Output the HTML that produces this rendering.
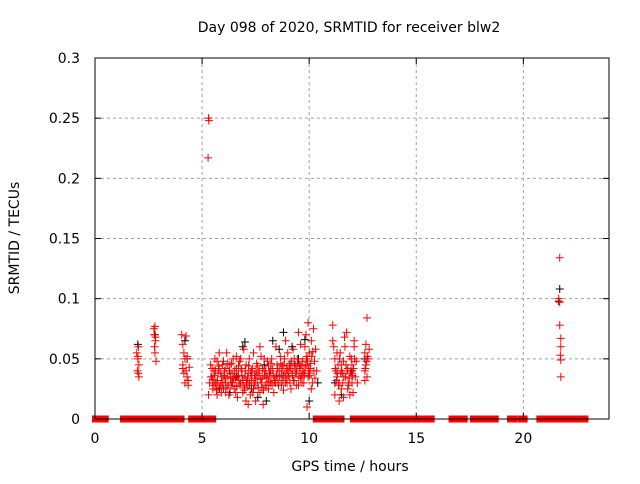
<!DOCTYPE html>
<html><head><meta charset="utf-8"><style>
body{margin:0;background:#fff;width:640px;height:480px;overflow:hidden;font-family:"DejaVu Sans",sans-serif}
svg text{font-family:"DejaVu Sans","Liberation Sans",sans-serif;font-size:14px;fill:#000}
</style></head><body>
<svg id="chart" width="640" height="480" xmlns="http://www.w3.org/2000/svg">
<rect x="0" y="0" width="640" height="480" fill="#fff"/>
<g id="grid"></g>
<g id="marks"></g>
<rect x="95" y="58" width="514" height="361" fill="none" stroke="#000" stroke-width="1"/>
<g id="ticks"></g>
<text x="349" y="32" text-anchor="middle">Day 098 of 2020, SRMTID for receiver blw2</text>
<text x="350" y="471" text-anchor="middle">GPS time / hours</text>
<text transform="translate(19,238) rotate(-90)" text-anchor="middle">SRMTID / TECUs</text>
</svg>
<script>
const xTicks=[0,5,10,15,20];
const yTicks=[0,0.05,0.1,0.15,0.2,0.25,0.3];
const yTickLabels=["0","0.05","0.1","0.15","0.2","0.25","0.3"];
const zeroSegments=[[0,0.5],[1.31,1.39],[1.55,1.66],[1.74,1.95],[2.06,2.23],[2.29,2.8],[2.9,3.16],[3.24,3.35],[3.43,4.04],[4.49,4.76],[5.0,5.33],[5.41,5.52],[10.31,11.11],[11.38,11.51],[12.04,12.16],[12.24,12.6],[12.77,13.47],[13.65,13.84],[13.92,14.4],[14.52,14.81],[14.86,15.37],[15.45,15.72],[16.65,16.65],[16.86,16.86],[17.06,17.06],[17.26,17.26],[17.65,17.65],[17.91,18.05],[18.29,18.62],[18.71,18.71],[19.38,19.58],[19.87,20.06],[20.75,20.88],[21.12,21.68],[21.83,22.31],[22.44,22.9]];
const blackHours=[2.0,2.8,4.2,5.5,6.3,7.0,7.6,8.3,8.8,9.2,10.0,11.5,12.0,21.7,21.65,6.6,7.9,9.5,5.8,8.0,10.4,12.6,4.3,6.9,7.3,8.6,9.8,11.2];
const blackValues=[0.062,0.07,0.065,0.03,0.022,0.064,0.018,0.065,0.072,0.06,0.015,0.02,0.04,0.108,0.098,0.035,0.045,0.05,0.025,0.015,0.03,0.05,0.05,0.06,0.025,0.058,0.066,0.03];
const redHours=[1.95,2.0,2.02,2.05,1.98,2.03,2.0,2.05,2.75,2.8,2.82,2.78,2.8,2.85,2.77,2.83,4.05,4.1,4.15,4.2,4.1,4.25,4.3,4.2,4.35,4.15,4.3,4.4,4.25,4.1,4.35,5.3,5.32,5.28,
5.3,5.35,5.4,5.45,5.5,5.55,5.6,5.65,5.7,5.75,5.8,5.85,5.9,5.95,6.0,6.05,6.1,6.15,6.2,6.25,6.3,6.35,6.4,6.45,6.5,6.55,6.6,6.65,6.7,6.75,6.8,6.85,6.9,6.95,7.0,7.05,7.1,7.15,7.2,7.25,7.3,7.35,7.4,7.45,7.5,7.55,7.6,7.65,7.7,7.75,7.8,7.85,7.9,7.95,8.0,8.05,8.1,8.15,8.2,8.25,8.3,8.35,8.4,8.45,8.5,8.55,8.6,8.65,8.7,8.75,8.8,8.85,8.9,8.95,9.0,9.05,9.1,9.15,9.2,9.25,9.3,9.35,9.4,9.45,9.5,9.55,9.6,9.65,9.7,9.75,9.8,9.85,9.9,9.95,10.0,10.05,10.1,10.15,10.2,10.25,10.3,10.35,9.95,9.8,10.1,5.5,5.8,6.1,6.4,6.7,7.0,7.3,7.6,7.9,8.2,8.5,8.8,9.1,9.4,9.7,6.0,6.3,6.6,6.9,7.2,7.5,7.8,8.1,8.4,8.7,9.0,9.3,9.6,9.9,5.6,5.9,6.2,7.7,8.9,9.5,10.0,7.4,6.8,5.7,7.05,7.15,9.9,
11.1,11.15,11.2,11.25,11.3,11.35,11.4,11.45,11.5,11.55,11.6,11.65,11.7,11.75,11.8,11.85,11.9,11.95,12.0,12.05,12.1,12.15,12.2,12.25,11.2,11.4,11.6,11.8,12.0,12.6,12.65,12.7,12.75,12.6,12.7,12.65,12.8,12.6,11.1,11.3,12.1,11.9,11.5,
21.7,21.65,21.7,21.7,21.75,21.75,21.73,21.75,21.75];
const redValues=[0.055,0.05,0.038,0.035,0.04,0.06,0.052,0.045,0.075,0.077,0.065,0.06,0.055,0.048,0.07,0.068,0.07,0.062,0.055,0.05,0.045,0.04,0.035,0.03,0.028,0.038,0.052,0.043,0.069,0.042,0.032,0.25,0.248,0.217,
0.02,0.03,0.045,0.035,0.025,0.04,0.05,0.03,0.02,0.038,0.055,0.028,0.035,0.045,0.025,0.04,0.03,0.055,0.035,0.02,0.045,0.03,0.038,0.05,0.025,0.033,0.042,0.018,0.036,0.048,0.03,0.04,0.022,0.058,0.035,0.045,0.028,0.038,0.05,0.02,0.032,0.042,0.025,0.036,0.015,0.046,0.03,0.038,0.022,0.052,0.034,0.012,0.04,0.028,0.035,0.048,0.025,0.038,0.03,0.05,0.042,0.022,0.035,0.06,0.045,0.03,0.04,0.052,0.028,0.044,0.036,0.05,0.03,0.042,0.055,0.035,0.046,0.025,0.04,0.058,0.032,0.045,0.038,0.05,0.028,0.044,0.062,0.036,0.048,0.03,0.04,0.07,0.045,0.035,0.055,0.042,0.065,0.03,0.075,0.048,0.058,0.04,0.08,0.06,0.025,0.033,0.042,0.022,0.028,0.044,0.026,0.04,0.044,0.05,0.04,0.036,0.024,0.03,0.028,0.04,0.048,0.038,0.052,0.032,0.03,0.034,0.026,0.044,0.03,0.036,0.04,0.05,0.034,0.052,0.028,0.022,0.046,0.06,0.065,0.072,0.038,0.055,0.05,0.048,0.015,0.012,0.01,
0.078,0.06,0.05,0.04,0.035,0.045,0.03,0.055,0.025,0.038,0.048,0.068,0.035,0.072,0.042,0.028,0.052,0.038,0.045,0.022,0.06,0.035,0.048,0.03,0.02,0.015,0.018,0.025,0.03,0.055,0.062,0.084,0.05,0.04,0.035,0.045,0.058,0.032,0.065,0.055,0.065,0.02,0.045,
0.134,0.1,0.097,0.078,0.067,0.06,0.053,0.049,0.035];
const redHours2=[5.42,5.52,5.62,5.72,5.82,5.92,6.02,6.12,6.22,6.32,6.42,6.52,6.62,6.72,6.82,6.92,7.02,7.12,7.22,7.32,7.42,7.52,7.62,7.72,7.82,7.92,8.02,8.12,8.22,8.32,8.42,8.52,8.62,8.72,8.82,8.92,9.02,9.12,9.22,9.32,9.42,9.52,9.62,9.72,9.82,9.92,10.02,10.12,10.22,
5.47,5.57,5.67,5.77,5.87,5.97,6.07,6.17,6.27,6.37,6.47,6.57,6.67,6.77,6.87,6.97,7.07,7.17,7.27,7.37,7.47,7.57,7.67,7.77,7.87,7.97,8.07,8.17,8.27,8.37,8.47,8.57,8.67,8.77,8.87,8.97,9.07,9.17,9.27,9.37,9.47,9.57,9.67,9.77,9.87,9.97,10.07,10.17,10.27,
11.22,11.32,11.42,11.52,11.62,11.72,11.82,11.92,12.02,12.12,11.27,11.37,11.47,11.57,11.67,11.77,11.87,11.97,12.07,12.68,12.72,12.62];
const redValues2=[0.035,0.028,0.04,0.032,0.026,0.03,0.036,0.042,0.028,0.034,0.03,0.04,0.027,0.032,0.042,0.03,0.04,0.034,0.028,0.036,0.03,0.04,0.026,0.033,0.042,0.036,0.028,0.031,0.046,0.036,0.03,0.042,0.035,0.04,0.045,0.034,0.038,0.042,0.036,0.044,0.04,0.035,0.045,0.038,0.044,0.048,0.036,0.052,0.04,
0.042,0.036,0.024,0.044,0.038,0.03,0.034,0.026,0.04,0.046,0.034,0.022,0.036,0.028,0.036,0.024,0.03,0.044,0.038,0.022,0.028,0.036,0.04,0.03,0.024,0.04,0.034,0.038,0.028,0.032,0.036,0.028,0.046,0.032,0.038,0.03,0.044,0.048,0.032,0.038,0.046,0.042,0.03,0.036,0.05,0.04,0.046,0.056,0.034,
0.042,0.038,0.05,0.04,0.035,0.045,0.03,0.04,0.036,0.05,0.032,0.028,0.038,0.03,0.06,0.04,0.034,0.05,0.042,0.048,0.052,0.042];

const NS='http://www.w3.org/2000/svg';
const X0=95,X1=609,Y0=419,Y1=58,XMAX=24,YMAX=0.3;
function sx(h){return X0+(X1-X0)*h/XMAX;}
function sy(v){return Y0-(Y0-Y1)*v/YMAX;}
function mk(tag,attrs,parent){const e=document.createElementNS(NS,tag);for(const k in attrs)e.setAttribute(k,attrs[k]);parent.appendChild(e);return e;}
const grid=document.getElementById('grid'),ticks=document.getElementById('ticks'),marks=document.getElementById('marks');
xTicks.forEach((t,i)=>{
  const x=sx(t);
  if(t>0){const g=mk('line',{x1:x,x2:x,y1:Y1,y2:Y0,stroke:'#a0a0a0','stroke-dasharray':'3,3'},grid);
  
  }
  const a=mk('line',{x1:x,x2:x,y1:Y0,y2:Y0-6,stroke:'#000'},ticks);
  
  
  const b=mk('line',{x1:x,x2:x,y1:Y1,y2:Y1+6,stroke:'#000'},ticks);
  
  
  const l=mk('text',{x:x,y:Y0+24,'text-anchor':'middle'},ticks);l.textContent=String(t);
  
  
});
yTicks.forEach((t,i)=>{
  const y=sy(t);
  if(t>0&&t<YMAX){const g=mk('line',{x1:X0,x2:X1,y1:y,y2:y,stroke:'#a0a0a0','stroke-dasharray':'3,3'},grid);
  
  }
  const a=mk('line',{x1:X0,x2:X0+6,y1:y,y2:y,stroke:'#000'},ticks);
  
  
  const b=mk('line',{x1:X1,x2:X1-6,y1:y,y2:y,stroke:'#000'},ticks);
  
  
  const l=mk('text',{x:X0-15,y:y+5,'text-anchor':'end'},ticks);l.textContent=yTickLabels[i];
  
  
});
function cross(h,v,color,name){
  const x=sx(h),y=sy(v);
  const p=mk('path',{d:`M${x-4},${y}H${x+4}M${x},${y-4}V${y+4}`,stroke:color,'stroke-width':1,fill:'none'},marks);
  
  
}
blackHours.forEach((h,i)=>cross(h,blackValues[i],'#000','black-point'));
redHours.forEach((h,i)=>cross(h,redValues[i],'#f00','red-point'));
redHours2.forEach((h,i)=>cross(h,redValues2[i],'#f00','red-point'));
zeroSegments.forEach(s=>{
  const xa=sx(s[0])-3,xb=sx(s[1])+3;
  const r=mk('rect',{x:xa,y:Y0-3.5,width:xb-xa,height:7,fill:'#f00'},marks);
  
  
});
</script>
</body></html>
